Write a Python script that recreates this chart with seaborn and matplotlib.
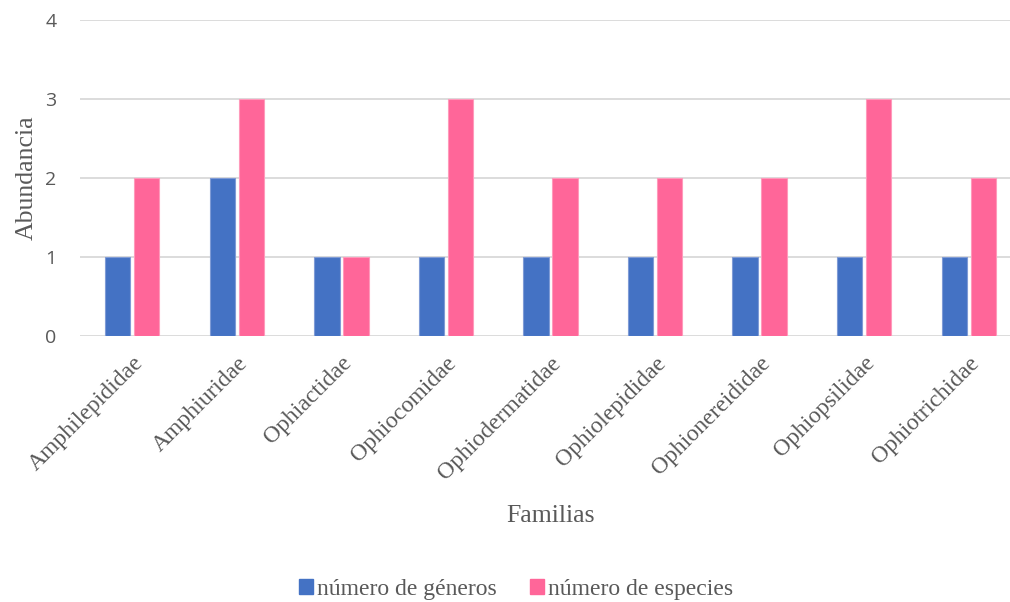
import matplotlib
matplotlib.use("Agg")
import matplotlib.pyplot as plt
from matplotlib.patches import Patch
import pandas as pd
import seaborn as sns

# Families of brittle stars and their counts
familias = ["Amphilepididae", "Amphiuridae", "Ophiactidae", "Ophiocomidae",
            "Ophiodermatidae", "Ophiolepididae", "Ophionereididae",
            "Ophiopsilidae", "Ophiotrichidae"]
num_generos = [1, 2, 1, 1, 1, 1, 1, 1, 1]
num_especies = [2, 3, 1, 3, 2, 2, 2, 3, 2]
series = ["número de géneros", "número de especies"]
colores = ["#4472C4", "#FF6699"]
bordes = ["#7F9BD6", "#FF9ABB"]
y_ticks = [0, 1, 2, 3, 4]

df = pd.DataFrame({
    "Familias": familias * 2,
    "Serie": [series[0]] * len(familias) + [series[1]] * len(familias),
    "Abundancia": num_generos + num_especies,
})

sns.set_theme(style="white")
serif = ["Liberation Serif", "DejaVu Serif"]
sans = ["Open Sans", "DejaVu Sans"]
gris = "#595959"

W, H = 1010, 602
fig = plt.figure(figsize=(W / 100, H / 100), dpi=100)
left, right, top, bottom = 80, 1021, 20, 336
ax = fig.add_axes([left / W, 1 - bottom / H, (right - left) / W, (bottom - top) / H])

sns.barplot(data=df, x="Familias", y="Abundancia", hue="Serie",
            hue_order=series, palette=colores, saturation=1, width=0.555,
            gap=0.13, dodge=True, legend=False, ax=ax, zorder=3)

# thin lighter outline per series
n = len(familias)
for i, bar in enumerate(ax.patches[:2 * n]):
    bar.set_edgecolor(bordes[i // n])
    bar.set_linewidth(0.8)

ax.set_ylim(0, 4)
ax.set_xlim(-0.5, len(familias) - 0.5)
ax.set_yticks(y_ticks)
ax.set_yticklabels([str(v) for v in y_ticks], family=sans, fontsize=14, color=gris)
ax.set_xticks(range(len(familias)))
ax.set_xticklabels(familias, family=serif, fontsize=17, color=gris,
                   rotation=45, ha="right", va="top", rotation_mode="anchor")
ax.tick_params(axis="x", length=0, pad=12)
ax.tick_params(axis="y", length=0, pad=17)

ax.grid(axis="y", color="#D9D9D9", linewidth=1.3, zorder=0)
ax.grid(axis="x", visible=False)
for s in ["top", "right", "left", "bottom"]:
    ax.spines[s].set_visible(False)

ax.set_ylabel("Abundancia", family=serif, fontsize=18.5, color=gris)
ax.yaxis.set_label_coords(-0.045, 0.5)
ax.set_xlabel("Familias", family=serif, fontsize=18.5, color=gris, va="top")
ax.xaxis.set_label_coords(0.5, -0.535)

handles = [Patch(facecolor=c, edgecolor=c) for c in colores]
fig.legend(handles, series, loc="center", bbox_to_anchor=(516 / W, 1 - 589 / H),
           ncol=2, frameon=False, handlelength=0.6, handleheight=0.6,
           handletextpad=0.15, columnspacing=1.4,
           prop={"family": serif, "size": 17}, labelcolor=gris)

fig.savefig("out.png", dpi=100)
